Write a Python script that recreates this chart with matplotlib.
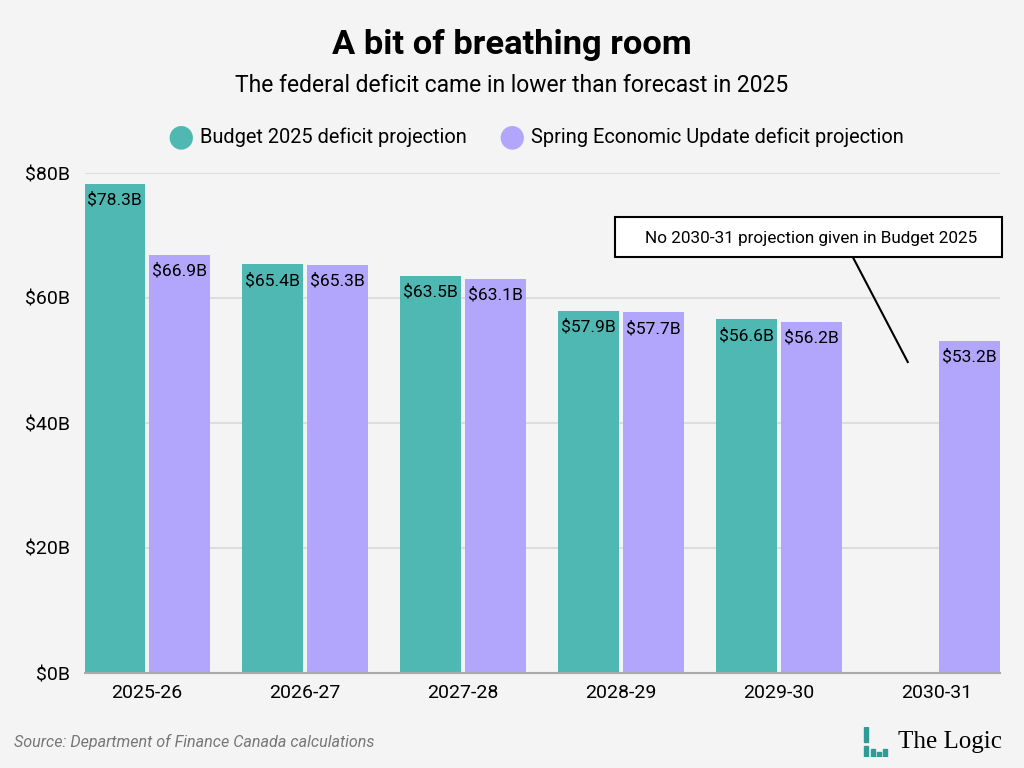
import matplotlib.pyplot as plt
from matplotlib.patches import Rectangle
import numpy as np

plt.rcParams['font.family'] = ['Roboto', 'DejaVu Sans']

years = ['2025-26', '2026-27', '2027-28', '2028-29', '2029-30', '2030-31']
budget = [78.3, 65.4, 63.5, 57.9, 56.6, None]
spring = [66.9, 65.3, 63.1, 57.7, 56.2, 53.2]
yticks = [0, 20, 40, 60, 80]

teal = '#4fb8b2'
purple = '#b2a6fc'
bg = '#f4f4f4'

fig = plt.figure(figsize=(10.24, 7.68), dpi=100, facecolor=bg)
ax = fig.add_axes([85 / 1024, 1 - 673 / 768, 915 / 1024, 500 / 768], facecolor=bg)

x = np.arange(len(years))
w = 0.386
off = 0.206
for i in x:
    if budget[i] is not None:
        ax.bar(i - off, budget[i], w, color=teal, zorder=3)
        ax.annotate(f'${budget[i]}B', (i - off, budget[i]), xytext=(0, -6),
                    textcoords='offset points', ha='center', va='top', fontsize=12.6, zorder=4)
    ax.bar(i + off, spring[i], w, color=purple, zorder=3)
    ax.annotate(f'${spring[i]}B', (i + off, spring[i]), xytext=(0, -6),
                textcoords='offset points', ha='center', va='top', fontsize=12.6, zorder=4)

ax.set_xlim(-0.392, 5.40)
ax.set_ylim(0, 80)
ax.set_yticks(yticks)
ax.set_yticklabels([f'${v}B' for v in yticks], fontsize=14)
ax.set_xticks(x)
ax.set_xticklabels(years, fontsize=14)
ax.tick_params(length=0, pad=8)
ax.tick_params(axis='y', pad=11)
for s in ['top', 'right', 'left']:
    ax.spines[s].set_visible(False)
ax.spines['bottom'].set_color('#aaaaaa')
ax.spines['bottom'].set_linewidth(1.5)
ax.spines['bottom'].set_zorder(5)
ax.grid(axis='y', color='#dddddd', linewidth=1.5, zorder=0)

# annotation: box + leader line
fig.patches.append(Rectangle((615 / 1024, 1 - 257 / 768), 387 / 1024, 40 / 768,
                             transform=fig.transFigure, fc='white', ec='black', lw=1.5, zorder=6))
fig.text(811 / 1024, 1 - 238 / 768, 'No 2030-31 projection given in Budget 2025',
         ha='center', va='center', fontsize=12.3, zorder=7)
ax.plot([4.468, 4.816], [66.56, 49.76], color='black', lw=1.5, zorder=6, clip_on=False)

# titles
fig.text(0.5, 1 - 45 / 768, 'A bit of breathing room', ha='center', va='center',
         fontsize=24.8, fontweight='bold')
fig.text(0.5, 1 - 85 / 768, 'The federal deficit came in lower than forecast in 2025',
         ha='center', va='center', fontsize=16.5)

# legend
ly = 1 - 137 / 768
fig.text(181 / 1024, ly, '\u25cf', color=teal, fontsize=22, ha='center', va='center',
         family='DejaVu Sans')
fig.text(200 / 1024, ly, 'Budget 2025 deficit projection', fontsize=14.4, va='center')
fig.text(512 / 1024, ly, '\u25cf', color=purple, fontsize=22, ha='center', va='center',
         family='DejaVu Sans')
fig.text(531 / 1024, ly, 'Spring Economic Update deficit projection', fontsize=14.4, va='center')

# source
fig.text(14 / 1024, 1 - 742 / 768, 'Source: Department of Finance Canada calculations',
         fontsize=11.6, style='italic', color='#777777', va='center')

# logo
logo = fig.add_axes([863 / 1024, 1 - 757 / 768, 26 / 1024, 30 / 768])
logo.set_xlim(0, 26)
logo.set_ylim(0, 30)
logo.axis('off')
for rx, ry, rw, rh in [(1, 0, 4, 11), (1, 15, 4, 15), (8, 0, 4, 8), (14, 0, 4, 5), (20, 0, 4, 8)]:
    logo.add_patch(Rectangle((rx, ry), rw, rh, color='#2e9c96'))
fig.text(898 / 1024, 1 - 742 / 768, 'The Logic', fontsize=18, va='center',
         family='Liberation Serif')

fig.savefig('out.png', dpi=100, facecolor=bg)
